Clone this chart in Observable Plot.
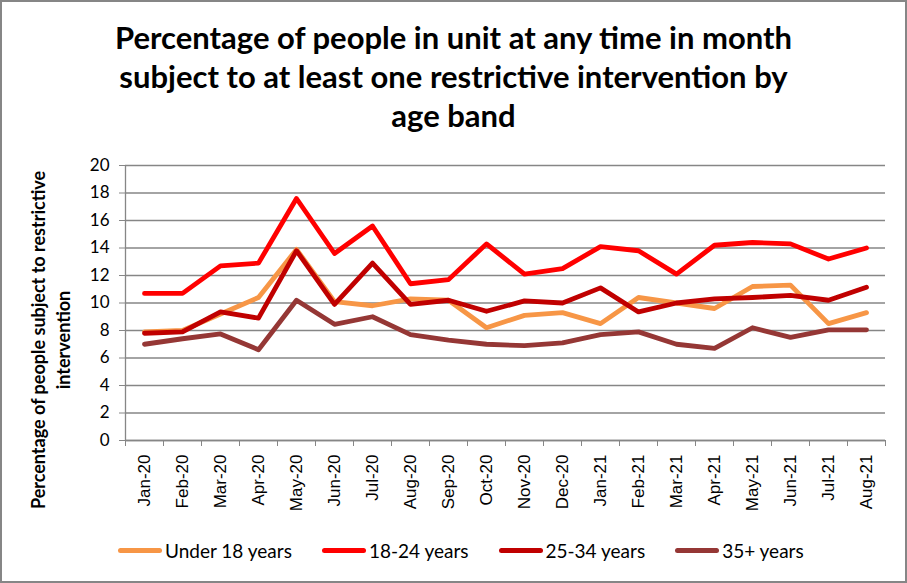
<!DOCTYPE html>
<html>
<head>
<meta charset="utf-8">
<script src="https://cdn.jsdelivr.net/npm/d3@7"></script>
<script src="https://cdn.jsdelivr.net/npm/@observablehq/plot@0.6"></script>
<style>
  html, body { margin: 0; padding: 0; background: white; }
  #wrap { position: relative; width: 907px; height: 583px; background: white; overflow: hidden; font-family: Lato, "Open Sans", sans-serif; }
  #title { position: absolute; left: 0; top: 18px; width: 907px; text-align: center; font-weight: bold; font-size: 31px; line-height: 39px; color: #000; }
  #ytitle { position: absolute; width: 420px; height: 50px; left: -159px; top: 315px; transform: rotate(-90deg); text-align: center; font-weight: bold; font-size: 18px; line-height: 25px; color: #000; }
  #chart { position: absolute; left: 0; top: 140px; }
  #legend { position: absolute; left: 118px; top: 539px; display: flex; align-items: center; font-size: 19px; color: #000; }
  .item { display: flex; align-items: center; margin-right: 30px; }
  .sw { width: 44px; height: 5px; border-radius: 3px; margin-right: 3px; }
  #border { position: absolute; left: 0; top: 0; width: 907px; height: 583px; box-sizing: border-box; border: 2px solid #868686; pointer-events: none; }
</style>
</head>
<body>
<div id="wrap">
  <div id="title">Percentage of people in unit at any time in month<br>subject to at least one restrictive intervention by<br>age band</div>
  <div id="ytitle">Percentage of people subject to restrictive<br>intervention</div>
  <div id="chart"></div>
  <div id="legend"></div>
  <div id="border"></div>
</div>
<script>
const months = ["Jan-20","Feb-20","Mar-20","Apr-20","May-20","Jun-20","Jul-20","Aug-20","Sep-20","Oct-20","Nov-20","Dec-20",
                "Jan-21","Feb-21","Mar-21","Apr-21","May-21","Jun-21","Jul-21","Aug-21"];
const seriesNames = ["Under 18 years", "18-24 years", "25-34 years", "35+ years"];
const seriesColors = ["#F79646", "#FF0000", "#C00000", "#953735"];
const under18 = [7.9, 8.0, 9.2, 10.4, 13.9, 10.1, 9.8, 10.3, 10.2, 8.2, 9.1, 9.3, 8.5, 10.4, 10.0, 9.6, 11.2, 11.3, 8.5, 9.3];
const age18to24 = [10.7, 10.7, 12.7, 12.9, 17.6, 13.6, 15.6, 11.4, 11.7, 14.3, 12.1, 12.5, 14.1, 13.8, 12.1, 14.2, 14.4, 14.3, 13.2, 14.0];
const age25to34 = [7.8, 7.9, 9.35, 8.9, 13.8, 9.9, 12.9, 9.9, 10.2, 9.4, 10.15, 10.0, 11.1, 9.35, 10.0, 10.3, 10.4, 10.55, 10.2, 11.15];
const age35plus = [7.0, 7.4, 7.75, 6.6, 10.2, 8.45, 9.0, 7.7, 7.3, 7.0, 6.9, 7.1, 7.7, 7.9, 7.0, 6.7, 8.2, 7.5, 8.05, 8.05];
const yTicks = [0, 2, 4, 6, 8, 10, 12, 14, 16, 18, 20];

const allSeries = [under18, age18to24, age25to34, age35plus];
const data = allSeries.flatMap((vals, s) => vals.map((v, i) => ({series: seriesNames[s], i, value: v})));
const idx = months.map((m, i) => i);
const bounds = d3.range(months.length + 1).map(i => i - 0.5);
const gray = "#868686";

const plot = Plot.plot({
  width: 907,
  height: 390,
  marginTop: 25,
  marginBottom: 90,
  marginLeft: 125,
  marginRight: 22,
  x: {type: "linear", domain: [-0.5, months.length - 0.5]},
  y: {domain: [0, 20]},
  color: {domain: seriesNames, range: seriesColors},
  marks: [
    Plot.gridY({ticks: yTicks, stroke: gray, strokeOpacity: 1, strokeWidth: 1.3}),
    Plot.ruleX([-0.5], {stroke: gray, strokeWidth: 1.3}),
    Plot.ruleY([0], {stroke: gray, strokeWidth: 1.3}),
    Plot.axisY({ticks: yTicks, tickSize: 6, tickPadding: 10, stroke: gray, fill: "black", fontSize: 17, fontFamily: "Lato, sans-serif", label: null}),
    Plot.axisX({ticks: bounds, tickFormat: () => "", tickSize: 6, stroke: gray, label: null}),
    Plot.axisX({ticks: idx, tickFormat: i => months[i], tickSize: 0, tickPadding: 14, tickRotate: -90, fill: "black", fontSize: 17, fontFamily: "Liberation Sans, Arial, sans-serif", label: null}),
    Plot.line(data, {x: "i", y: "value", z: "series", stroke: "series", strokeWidth: 4.8, strokeLinejoin: "round", strokeLinecap: "round"})
  ]
});
document.getElementById("chart").appendChild(plot);

const legend = document.getElementById("legend");
seriesNames.forEach((name, s) => {
  const item = document.createElement("div");
  item.className = "item";
  const sw = document.createElement("div");
  sw.className = "sw";
  sw.style.background = seriesColors[s];
  const t = document.createElement("span");
  t.textContent = name;
  item.appendChild(sw);
  item.appendChild(t);
  legend.appendChild(item);
});
</script>
</body>
</html>
